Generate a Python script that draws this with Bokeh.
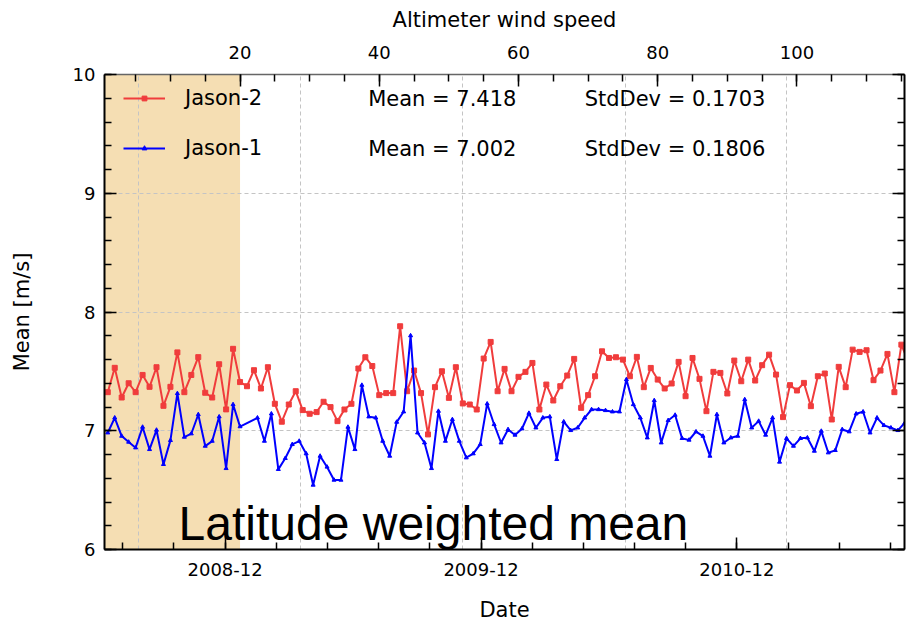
from datetime import datetime
from bokeh.plotting import figure
from bokeh.models import (Range1d, LinearAxis, DatetimeAxis, FixedTicker, SingleIntervalTicker,
                          DatetimeTickFormatter, Grid, BoxAnnotation, Label, Legend, LegendItem,
                          CustomLabelingPolicy)
from bokeh.embed import file_html
from bokeh.resources import INLINE

# ---------------- data ----------------
jason2_cycles = list(range(1, 117))
jason2_mean = [
    7.325, 7.53, 7.28, 7.40, 7.325, 7.47, 7.37, 7.535, 7.21, 7.37,
    7.66, 7.325, 7.47, 7.62, 7.32, 7.28, 7.56, 7.18, 7.69, 7.41,
    7.375, 7.51, 7.356, 7.535, 7.227, 7.076, 7.221, 7.333, 7.174, 7.143,
    7.157, 7.244, 7.199, 7.081, 7.179, 7.227, 7.524, 7.619, 7.545, 7.30,
    7.317, 7.317, 7.88, 7.333, 7.507, 7.317, 6.969, 7.367, 7.501, 7.277,
    7.535, 7.23, 7.221, 7.179, 7.608, 7.748, 7.333, 7.521, 7.333, 7.454,
    7.496, 7.571, 7.179, 7.389, 7.255, 7.375, 7.465, 7.605, 7.193, 7.30,
    7.459, 7.669, 7.613, 7.619, 7.599, 7.459, 7.622, 7.367, 7.529, 7.431,
    7.356, 7.398, 7.58, 7.291, 7.613, 7.437, 7.165, 7.496, 7.487, 7.314,
    7.591, 7.417, 7.599, 7.423, 7.552, 7.641, 7.473, 7.115, 7.384, 7.339,
    7.403, 7.207, 7.459, 7.482, 7.095, 7.538, 7.367, 7.683, 7.664, 7.678,
    7.426, 7.507, 7.647, 7.325, 7.725, 7.58,
]
jason1_cycles = list(range(1, 21)) + [c + 0.5 for c in range(22, 116)]
jason1_mean = [
    6.983, 7.109, 6.955, 6.905, 6.857, 7.031, 6.843, 7.006, 6.717, 6.919,
    7.314, 6.947, 6.975, 7.137, 6.871, 6.913, 7.118, 6.683, 7.221, 7.035,
    7.109, 6.913, 7.143, 6.675, 6.768, 6.885, 6.913, 6.807, 6.543, 6.787,
    6.695, 6.585, 6.585, 7.031, 6.843, 7.384, 7.118, 7.109, 6.913, 6.787,
    7.073, 7.16, 7.801, 6.983, 6.899, 6.683, 7.165, 6.913, 7.095, 6.913,
    6.773, 6.807, 6.885, 7.227, 7.053, 6.899, 7.011, 6.964, 7.017, 7.148,
    7.025, 7.109, 7.118, 6.759, 7.076, 7.003, 7.025, 7.109, 7.179, 7.179,
    7.171, 7.16, 7.16, 7.431, 7.221, 7.109, 6.941, 7.255, 6.899, 7.087,
    7.132, 6.936, 6.922, 6.992, 6.955, 6.787, 7.137, 6.899, 6.941, 6.955,
    7.263, 7.025, 7.081, 6.964, 7.109, 6.737, 6.936, 6.871, 6.936, 6.941,
    6.829, 6.997, 6.815, 6.835, 7.011, 6.992, 7.143, 7.16, 6.983, 7.109,
    7.045, 7.025, 7.003, 7.067,
]
series_names = ["Jason-2", "Jason-1"]
series_stats = ["Mean = 7.418", "Mean = 7.002"]
series_std = ["StdDev = 0.1703", "StdDev = 0.1806"]
highlight_cycles = (0, 20)
date_ticks = [datetime(2008, 12, 1), datetime(2009, 12, 1), datetime(2010, 12, 1)]
grid_dates = [datetime(2008, 7, 30), datetime(2009, 3, 18), datetime(2009, 11, 5),
              datetime(2010, 6, 25), datetime(2011, 2, 10)]
date_start, date_end = datetime(2008, 6, 12), datetime(2011, 7, 28)
title_text = "Latitude weighted mean"

# ---------------- styling ----------------
FONT = "DejaVu Sans"
RED = "#f03c3c"
BLUE = "#0000ff"
GRID = "#c4c4c4"
EPOCH = datetime(1970, 1, 1)


def ms(d):
    return (d - EPOCH).total_seconds() * 1000.0


p = figure(width=908, height=624, output_backend="svg", toolbar_location=None,
           x_range=Range1d(0.53, 115.45), y_range=Range1d(6, 10),
           x_axis_location="above",
           min_border_left=104, min_border_right=0, min_border_top=74, min_border_bottom=74)
p.outline_line_color = None
p.background_fill_color = "white"
p.border_fill_color = "white"
p.extra_x_ranges = {"date": Range1d(start=date_start, end=date_end)}

# shaded band
band = BoxAnnotation(left=p.x_range.start, right=highlight_cycles[1],
                     fill_color="#f5deb3", fill_alpha=1.0, line_alpha=0, level="image")
p.add_layout(band)

# top axis (cycle index)
top = p.xaxis[0]
top.ticker = SingleIntervalTicker(interval=20, num_minor_ticks=4)
top.axis_label = "Altimeter wind speed"

# bottom date axis
minor = []
year_ms = 365.25 * 86400000.0
for d in date_ticks:
    for k in range(-4, 5):
        minor.append(ms(d) + k * year_ms / 5.0)
fmt = "%Y-%m"
date_axis = DatetimeAxis(x_range_name="date",
                         ticker=FixedTicker(ticks=[ms(d) for d in date_ticks], minor_ticks=minor),
                         formatter=DatetimeTickFormatter(microseconds=fmt, milliseconds=fmt, seconds=fmt,
                                                         minsec=fmt, minutes=fmt, hourmin=fmt, hours=fmt,
                                                         days=fmt, months=fmt, years=fmt),
                         axis_label="Date")
p.add_layout(date_axis, "below")

left = p.yaxis[0]
left.ticker = SingleIntervalTicker(interval=1, num_minor_ticks=5)
left.axis_label = "Mean [m/s]"

no_labels = CustomLabelingPolicy(code="""
const C = indices.constructor;
return (typeof C.all_unset === 'function') ? C.all_unset(indices.size) : new C(indices.size, 0);
""")
right = LinearAxis(ticker=SingleIntervalTicker(interval=1, num_minor_ticks=5),
                   major_label_text_font_size="1px", major_label_standoff=0,
                   major_label_policy=no_labels)
p.add_layout(right, "right")

for ax in [top, date_axis, left, right]:
    ax.major_tick_in = 12
    ax.major_tick_out = 0
    ax.minor_tick_in = 7
    ax.minor_tick_out = 0
    ax.major_tick_line_color = "black"
    ax.minor_tick_line_color = "black"
    ax.major_tick_line_width = 1.5
    ax.minor_tick_line_width = 1.5
    ax.axis_line_color = "black"
    ax.axis_line_width = 2
    ax.major_label_text_font = FONT
    ax.axis_label_text_font = FONT
    ax.axis_label_text_font_style = "normal"
    ax.axis_label_text_font_size = "21px"
    ax.axis_label_text_color = "black"
    ax.major_label_text_color = "black"
for ax in [top, date_axis, left]:
    ax.major_label_text_font_size = "18px"
top.axis_line_color = "#666666"
top.axis_line_width = 1.5
top.major_label_standoff = 16
top.axis_label_standoff = 11
date_axis.major_label_standoff = 13
date_axis.axis_label_standoff = 19
left.major_label_standoff = 9
left.axis_label_standoff = 36

# grids
p.xgrid.visible = False
p.ygrid.grid_line_color = GRID
p.ygrid.grid_line_dash = "4 3"
vgrid = Grid(dimension=0, x_range_name="date", ticker=FixedTicker(ticks=[ms(d) for d in grid_dates]),
             grid_line_color=GRID, grid_line_dash="4 3")
p.add_layout(vgrid)

# series
r2l = p.line(jason2_cycles, jason2_mean, line_color=RED, line_width=2)
r2s = p.scatter(jason2_cycles, jason2_mean, marker="square", size=5, color=RED)
r1l = p.line(jason1_cycles, jason1_mean, line_color=BLUE, line_width=2)
r1s = p.scatter(jason1_cycles, jason1_mean, marker="triangle", size=4, color=BLUE)

legend = Legend(items=[LegendItem(label=series_names[0], renderers=[r2l, r2s]),
                       LegendItem(label=series_names[1], renderers=[r1l, r1s])],
                location=(19, 389), margin=0, padding=0, spacing=25,
                glyph_width=42, glyph_height=12, label_height=25, label_standoff=20,
                label_text_font=FONT, label_text_font_size="21px", label_text_color="black",
                border_line_alpha=0, background_fill_alpha=0)
p.add_layout(legend)

for i, yv in enumerate([9.796, 9.37]):
    p.add_layout(Label(x=38.4, y=yv, text=series_stats[i], text_font=FONT, text_color="black",
                       text_font_size="21px", text_baseline="alphabetic"))
    p.add_layout(Label(x=69.5, y=yv, text=series_std[i], text_font=FONT, text_color="black",
                       text_font_size="21px", text_baseline="alphabetic"))

p.add_layout(Label(x=11.17, y=6.222, text=title_text, text_font="Liberation Sans", text_color="black",
                   text_font_size="48px", text_baseline="alphabetic"))

open("out.html", "w").write(file_html(p, INLINE))
